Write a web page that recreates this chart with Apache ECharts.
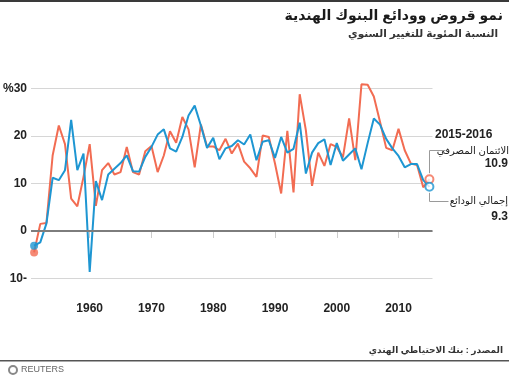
<!DOCTYPE html>
<html><head><meta charset="utf-8">
<script src="https://cdn.jsdelivr.net/npm/echarts@6/dist/echarts.min.js"></script>
<style>html,body{margin:0;padding:0;background:#fff}#c{width:509px;height:378px}</style>
</head><body><div id="c"></div>
<script>
const years = [1951,1952,1953,1954,1955,1956,1957,1958,1959,1960,1961,1962,1963,1964,1965,1966,1967,1968,1969,1970,
  1971,1972,1973,1974,1975,1976,1977,1978,1979,1980,1981,1982,1983,1984,1985,1986,1987,1988,1989,1990,
  1991,1992,1993,1994,1995,1996,1997,1998,1999,2000,2001,2002,2003,2004,2005,2006,2007,2008,2009,2010,
  2011,2012,2013,2014,2015];
const bankCredit = [-4.5,1.5,1.7,15.9,22.2,18.3,6.8,5.2,11.4,18.3,5.3,12.8,14.3,11.9,12.4,17.7,12.4,11.9,16.8,17.9,
  12.4,15.9,21.0,18.6,24.0,21.4,13.4,22.4,17.8,17.8,17.0,19.4,16.3,18.4,14.6,13.2,11.4,20.1,19.8,14.2,
  7.9,21.1,8.1,28.8,21.2,9.5,16.5,13.7,18.3,17.7,15.5,23.7,14.9,30.9,30.8,28.3,23.0,17.5,17.0,21.5,
  17.0,14.2,13.9,9.2,10.9];
const totalDeposits = [-3.1,-2.4,1.6,11.2,10.7,12.8,23.4,12.8,16.3,-8.6,10.5,6.5,11.9,13.1,14.3,15.9,12.6,12.5,15.6,17.7,
  20.3,21.4,17.4,16.7,19.8,24.3,26.4,22.2,17.5,19.6,15.1,17.4,17.9,19.1,18.2,20.3,14.9,18.8,19.1,15.4,
  19.8,16.5,17.3,22.8,12.1,16.5,18.5,19.3,13.9,18.5,14.8,16.1,17.4,13.0,18.5,23.7,22.4,19.4,17.4,15.8,
  13.4,14.1,14.1,10.7,9.3];
const yTicks = [-10,0,10,20,30];
const yTickLabels = ['10-','0','10','20','%30'];
const xTicks = [1960,1970,1980,1990,2000,2010];
const titleText = 'نمو قروض وودائع البنوك الهندية';
const subtitleText = 'النسبة المئوية للتغيير السنوي';
const periodLabel = '2015-2016';
const creditLabel = 'الائتمان المصرفي';
const depositLabel = 'إجمالي الودائع';
const sourceText = 'المصدر : بنك الاحتياطي الهندي';

const RED = '#f26c52', BLUE = '#1e96d2';
const last = years.length - 1;
const pairs = arr => years.map((y, i) => [y, arr[i]]);
const FONT = '"Liberation Sans", "DejaVu Sans", Arial, sans-serif';

const chart = echarts.init(document.getElementById('c'), null, {renderer: 'canvas'});
chart.setOption({
  animation: false,
  backgroundColor: '#fff',
  grid: {left: 21, right: 76.5, top: 88.5, bottom: 99.5, containLabel: false},
  xAxis: {
    type: 'value', min: 1950.5, max: 2015.5, offset: 15,
    axisLine: {show: false},
    axisTick: {show: true, customValues: xTicks, length: 7, lineStyle: {color: '#cccccc'}},
    axisLabel: {customValues: xTicks, formatter: v => String(v), fontFamily: FONT, fontWeight: 'bold', fontSize: 12, color: '#222', margin: 9},
    splitLine: {show: false}
  },
  yAxis: {
    type: 'value', min: -10, max: 30, interval: 10,
    axisLine: {show: false}, axisTick: {show: false},
    axisLabel: {formatter: v => yTickLabels[yTicks.indexOf(v)], fontFamily: FONT, fontWeight: 'bold', fontSize: 12, color: '#222', margin: 4},
    splitLine: {lineStyle: {color: '#d6d6d6', width: 1}}
  },
  series: [
    {type: 'line', data: [], z: 1, silent: true,
     markLine: {silent: true, symbol: 'none', label: {show: false}, lineStyle: {color: '#7d7d7d', width: 2, type: 'solid'}, data: [{yAxis: 0}]}},
    {name: 'credit', type: 'line', data: pairs(bankCredit), symbol: 'none', clip: false, z: 3,
     lineStyle: {color: RED, width: 2}},
    {name: 'deposits', type: 'line', data: pairs(totalDeposits), symbol: 'none', clip: false, z: 4,
     lineStyle: {color: BLUE, width: 2}},
    {type: 'scatter', z: 5, symbolSize: 8, data: [{value: [years[0], bankCredit[0]], itemStyle: {color: RED}},
      {value: [years[0], totalDeposits[0]], itemStyle: {color: BLUE}}]},
    {type: 'scatter', z: 6, symbolSize: 8, data: [
      {value: [years[last], bankCredit[last]], itemStyle: {color: '#fff', borderColor: RED, borderWidth: 2}},
      {value: [years[last], totalDeposits[last]], itemStyle: {color: '#fff', borderColor: BLUE, borderWidth: 2}}]}
  ]
});

const pC = chart.convertToPixel({gridIndex: 0}, [years[last], bankCredit[last]]);
const pD = chart.convertToPixel({gridIndex: 0}, [years[last], totalDeposits[last]]);
const bx = Math.round(pC[0]) + 0.5;
const gray = '#9a9a9a';
chart.setOption({
  graphic: [
    {type: 'rect', shape: {x: 0, y: 0, width: 509, height: 2}, style: {fill: '#3a3a3a'}},
    {type: 'text', style: {text: titleText, x: 503, y: 16, align: 'right', verticalAlign: 'middle', font: 'bold 14px ' + FONT, fill: '#1a1a1a'}},
    {type: 'text', style: {text: subtitleText, x: 498, y: 34, align: 'right', verticalAlign: 'middle', font: 'bold 10.5px ' + FONT, fill: '#333'}},
    {type: 'text', style: {text: periodLabel, x: 435, y: 135, align: 'left', verticalAlign: 'middle', font: 'bold 12px ' + FONT, fill: '#222'}},
    {type: 'polyline', shape: {points: [[bx + 16, 150.5], [bx, 150.5], [bx, pC[1] - 6]]}, style: {stroke: gray, lineWidth: 1, fill: null}},
    {type: 'text', style: {text: creditLabel, x: 509, y: 151, align: 'right', verticalAlign: 'middle', font: '10px ' + FONT, fill: '#222'}},
    {type: 'text', style: {text: String(bankCredit[last]), x: 508, y: 164, align: 'right', verticalAlign: 'middle', font: 'bold 12px ' + FONT, fill: '#222'}},
    {type: 'polyline', shape: {points: [[bx, pD[1] + 6], [bx, 201.5], [bx + 19, 201.5]]}, style: {stroke: gray, lineWidth: 1, fill: null}},
    {type: 'text', style: {text: depositLabel, x: 508, y: 201, align: 'right', verticalAlign: 'middle', font: '10px ' + FONT, fill: '#222'}},
    {type: 'text', style: {text: String(totalDeposits[last]), x: 508, y: 217, align: 'right', verticalAlign: 'middle', font: 'bold 12px ' + FONT, fill: '#222'}},
    {type: 'text', style: {text: sourceText, x: 503, y: 351, align: 'right', verticalAlign: 'middle', font: 'bold 9px ' + FONT, fill: '#333'}},
    {type: 'rect', shape: {x: 0, y: 360, width: 509, height: 1.5}, style: {fill: '#555'}},
    {type: 'circle', shape: {cx: 13, cy: 370, r: 4}, style: {fill: null, stroke: '#888', lineWidth: 2}},
    {type: 'text', style: {text: 'REUTERS', x: 21, y: 370, align: 'left', verticalAlign: 'middle', font: '9px ' + FONT, fill: '#666'}}
  ]
});
</script></body></html>
